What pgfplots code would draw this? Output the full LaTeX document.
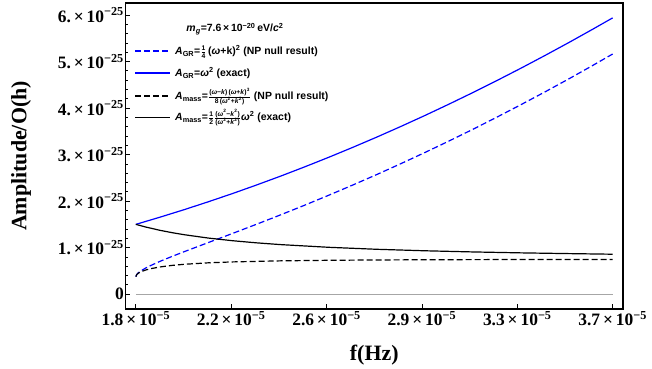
\documentclass[border=0pt]{standalone}
\usepackage{fontspec}
\setmainfont{Liberation Serif}
\newfontfamily\lsans{Liberation Sans}
\usepackage{pgfplots}
\pgfplotsset{compat=1.18}
\newcommand{\sm}[1]{\mbox{\fontsize{6.8}{7}\selectfont\lsans\bfseries #1}}
\tikzset{lgtext/.style={font=\lsans\bfseries\fontsize{10.5}{12}\selectfont, anchor=base west, inner sep=0pt, yshift=-3.6bp}}
\begin{document}
\begin{tikzpicture}
\begin{axis}[name=ax, scale only axis, width=497.5bp, height=306bp,
  xmin=0.9785, xmax=2.0115, ymin=-0.32, ymax=6.26,
  axis line style={line width=1.1bp},
  tick pos=left, tick align=inside,
  major tick length=5bp, minor tick length=3bp,
  tick style={black, line width=0.8bp},
  xtick={1,1.198,1.396,1.594,1.792,1.99},
  xticklabels={1.8\,×\,10\textsuperscript{−5},2.2\,×\,10\textsuperscript{−5},2.6\,×\,10\textsuperscript{−5},2.9\,×\,10\textsuperscript{−5},3.3\,×\,10\textsuperscript{−5},3.7\,×\,10\textsuperscript{−5}},
  ytick={0,1,2,3,4,5,6},
  yticklabels={0,1.\,×\,10\textsuperscript{−25},2.\,×\,10\textsuperscript{−25},3.\,×\,10\textsuperscript{−25},4.\,×\,10\textsuperscript{−25},5.\,×\,10\textsuperscript{−25},6.\,×\,10\textsuperscript{−25}},
  minor y tick num=4,
  ticklabel style={font=\bfseries\fontsize{17.5}{19}\selectfont},
  yticklabel style={inner sep=1.5bp},
  xticklabel style={inner sep=2bp},
  xlabel={f(Hz)}, ylabel={Amplitude/O(h)},
  label style={font=\bfseries\fontsize{22}{24}\selectfont},
  xlabel style={at={(axis description cs:0.5,-0.15)}, anchor=center},
  ylabel style={at={(axis description cs:-0.21,0.5)}, anchor=center},
]
\addplot[gray!70, line width=1bp] coordinates {(1,0) (1.99,0)};
\addplot[color=blue, line width=1.2bp, dash pattern=on 6bp off 3bp] coordinates {
(1,0.375) (1.002,0.426) (1.005,0.458) (1.01,0.497) (1.02,0.559) (1.03,0.611) (1.05,0.704) (1.075,0.810)
(1.1,0.911) (1.15,1.107) (1.2,1.302) (1.25,1.5) (1.3,1.702) (1.35,1.910) (1.4,2.124) (1.45,2.344)
(1.5,2.570) (1.55,2.804) (1.6,3.044) (1.65,3.291) (1.7,3.545) (1.75,3.807) (1.8,4.076) (1.85,4.351)
(1.9,4.634) (1.95,4.925) (1.99,5.163)};
\addplot[color=blue, line width=1.2bp] coordinates {
(1,1.5) (1.05,1.654) (1.1,1.815) (1.15,1.984) (1.2,2.16) (1.25,2.344) (1.3,2.535) (1.35,2.734)
(1.4,2.94) (1.45,3.154) (1.5,3.375) (1.55,3.604) (1.6,3.84) (1.65,4.084) (1.7,4.335) (1.75,4.594)
(1.8,4.86) (1.85,5.134) (1.9,5.415) (1.95,5.704) (1.99,5.94)};
\addplot[color=black, line width=1.2bp, dash pattern=on 6bp off 3bp] coordinates {
(1,0.375) (1.002,0.422) (1.005,0.449) (1.01,0.478) (1.02,0.517) (1.03,0.545) (1.05,0.584) (1.075,0.6175)
(1.1,0.641) (1.15,0.6728) (1.2,0.6925) (1.3,0.7153) (1.4,0.7273) (1.5,0.7344) (1.6,0.7388) (1.7,0.7417)
(1.8,0.7437) (1.9,0.7451) (1.99,0.746)};
\addplot[color=black, line width=1.2bp] coordinates {
(1,1.5) (1.02,1.444) (1.05,1.372) (1.075,1.322) (1.1,1.278) (1.15,1.206) (1.2,1.149) (1.25,1.103)
(1.3,1.065) (1.4,1.007) (1.5,0.964) (1.6,0.932) (1.7,0.907) (1.8,0.887) (1.9,0.871) (1.99,0.858)};
% legend
\node[font=\lsans\bfseries\fontsize{10.5}{12}\selectfont, anchor=center] at (axis description cs:0.22,0.915)
  {\textit{m}\textsubscript{\textit{g}}=7.6\,×\,10\textsuperscript{−20}\,eV/\textit{c}\textsuperscript{2}};
\draw[blue, line width=1.2bp, dash pattern=on 6bp off 3bp] (axis description cs:0.0191,0.843) -- (axis description cs:0.0894,0.843);
\node[lgtext] at (axis description cs:0.0995,0.843) {\textit{A}\textsubscript{GR}=$\frac{\sm{1}}{\sm{4}}$\,(\textit{ω}+k)\textsuperscript{2} (NP null result)};
\draw[blue, line width=1.2bp] (axis description cs:0.0191,0.771) -- (axis description cs:0.0894,0.771);
\node[lgtext] at (axis description cs:0.0995,0.771) {\textit{A}\textsubscript{GR}=\textit{ω}\textsuperscript{2} (exact)};
\draw[black, line width=1.2bp, dash pattern=on 6bp off 3bp] (axis description cs:0.0191,0.696) -- (axis description cs:0.0894,0.696);
\node[lgtext] at (axis description cs:0.0995,0.696) {\textit{A}\textsubscript{mass}=$\frac{\sm{(\textit{ω}−\textit{k})\,(\textit{ω}+\textit{k})\textsuperscript{3}}}{\sm{8\,(\textit{ω}\textsuperscript{2}+\textit{k}\textsuperscript{2})}}$ (NP null result)};
\draw[black, line width=1.2bp] (axis description cs:0.0191,0.627) -- (axis description cs:0.0894,0.627);
\node[lgtext] at (axis description cs:0.0995,0.627) {\textit{A}\textsubscript{mass}=$\frac{\sm{1}}{\sm{2}}\frac{\sm{(\textit{ω}\textsuperscript{2}−\textit{k}\textsuperscript{2})}}{\sm{(\textit{ω}\textsuperscript{2}+\textit{k}\textsuperscript{2})}}$\textit{ω}\textsuperscript{2} (exact)};
\end{axis}
\path ([shift={(-125.5bp,-57bp)}]ax.south west) rectangle ([shift={(29bp,3bp)}]ax.north east);
\end{tikzpicture}
\end{document}
